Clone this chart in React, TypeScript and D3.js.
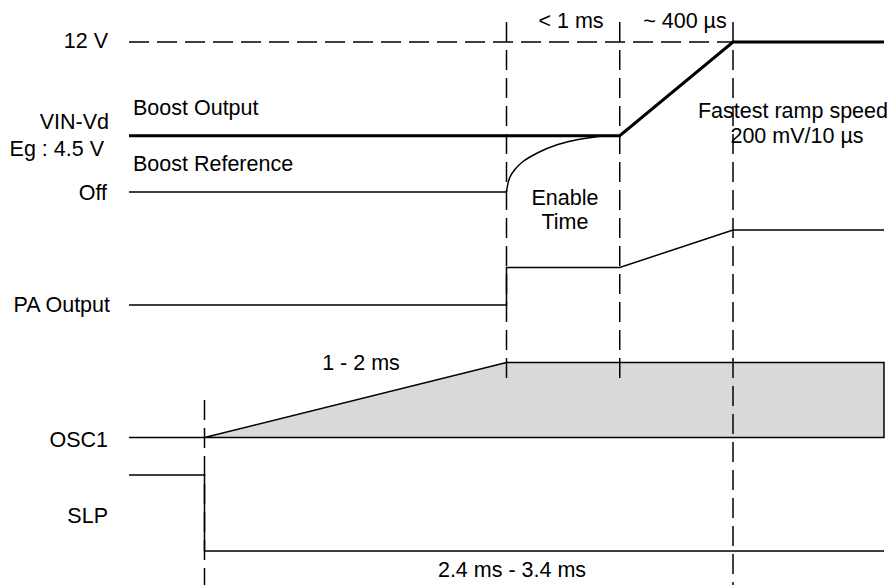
import * as d3 from 'd3';

type Pt = [number, number];

// event times (arbitrary time units): SLP falls, OSC1 settled, enable done, ramp done
const eventTimes = [0, 8, 11, 14];
const timeSpan = [-2, 18];

// boost row, in volts
const twelveVLine: Pt[] = [[-2, 12], [14, 12]];
const boostOutput: Pt[] = [[-2, 4.5], [11, 4.5], [14, 12], [18, 12]];
const boostRefOff: Pt[] = [[-2, 0], [8, 0]];
const boostRefCurve: Pt[] = [
  [8, 0], [8.08, 1.12], [8.21, 1.76], [8.42, 2.4], [8.87, 3.2],
  [9.32, 3.76], [9.75, 4.1], [10.2, 4.34], [10.55, 4.48], [11, 4.5],
];

// PA output levels: 0 low, 1 enabled, 2 full
const paOutput: Pt[] = [[-2, 0], [8, 0], [8, 1], [11, 1], [14, 2], [18, 2]];

// OSC1 amplitude envelope
const osc1Lead: Pt[] = [[-2, 0], [0, 0]];
const osc1Envelope: Pt[] = [[0, 0], [8, 1], [18, 1], [18, 0]];

// SLP logic level
const slp: Pt[] = [[-2, 1], [0, 1], [0, 0], [18, 0]];

const rowLabels = ['12 V', 'VIN-Vd', 'Eg : 4.5 V', 'Off', 'PA Output', 'OSC1', 'SLP'];

const font = "'Liberation Sans', Arial, Helvetica, sans-serif";

const App = () => {
  const width = 892;
  const height = 585;

  const x = d3.scaleLinear().domain(timeSpan).range([129, 884]);
  const yBoost = d3.scaleLinear().domain([0, 12]).range([192, 42]);
  const yPA = d3.scaleLinear().domain([0, 2]).range([305, 230]);
  const yOsc = d3.scaleLinear().domain([0, 1]).range([437.5, 362.5]);
  const ySlp = d3.scaleLinear().domain([0, 1]).range([551, 475]);

  const lineFor = (y: d3.ScaleLinear<number, number>) =>
    d3.line<Pt>().x((d) => x(d[0])).y((d) => y(d[1]));

  const boostLine = lineFor(yBoost);
  const curveLine = lineFor(yBoost).curve(d3.curveCatmullRom.alpha(0.5));

  // vertical extent of each dashed marker
  const markerSpans: Pt[] = [[400, 585], [22, 383], [22, 383], [22, 585]];

  const labelX = [108, 109, 104, 107, 110, 108, 108];
  const labelY = [48, 129, 156, 200, 312, 447, 523];

  const dash = '20,8';

  return (
    <svg width={width} height={height} style={{ position: 'absolute', left: 0, top: 0, background: '#fff' }}>
      <g fontFamily={font} fontSize={21.5} fill='#000'>
        {/* OSC1 envelope area */}
        <path d={lineFor(yOsc)(osc1Envelope) + 'Z'} fill='#d9d9d9' stroke='#000' strokeWidth={1.5} />

        {/* dashed time markers */}
        {eventTimes.map((t, i) => (
          <line
            key={t}
            x1={x(t)}
            x2={x(t)}
            y1={markerSpans[i][0]}
            y2={markerSpans[i][1]}
            stroke='#000'
            strokeWidth={1.5}
            strokeDasharray={dash}
          />
        ))}

        {/* 12 V dashed level */}
        <path d={boostLine(twelveVLine)!} fill='none' stroke='#000' strokeWidth={1.5} strokeDasharray={dash} />

        {/* boost reference */}
        <path d={boostLine(boostRefOff)!} fill='none' stroke='#000' strokeWidth={1.5} />
        <path d={curveLine(boostRefCurve)!} fill='none' stroke='#000' strokeWidth={1.5} />

        {/* boost output */}
        <path d={boostLine(boostOutput)!} fill='none' stroke='#000' strokeWidth={3} />

        {/* PA output */}
        <path d={lineFor(yPA)(paOutput)!} fill='none' stroke='#000' strokeWidth={1.5} />

        {/* OSC1 lead-in */}
        <path d={lineFor(yOsc)(osc1Lead)!} fill='none' stroke='#000' strokeWidth={1.5} />

        {/* SLP */}
        <path d={lineFor(ySlp)(slp)!} fill='none' stroke='#000' strokeWidth={1.5} />

        {/* row labels */}
        {rowLabels.map((s, i) => (
          <text key={s} x={labelX[i]} y={labelY[i]} textAnchor='end'>
            {s}
          </text>
        ))}

        <text x={133} y={115}>Boost Output</text>
        <text x={133} y={171}>Boost Reference</text>

        <text x={571} y={28} textAnchor='middle'>&lt; 1 ms</text>
        <text x={685} y={28} textAnchor='middle'>~ 400 µs</text>

        <text x={793} y={118} textAnchor='middle'>Fastest ramp speed</text>
        <text x={797} y={143} textAnchor='middle'>200 mV/10 µs</text>

        <text x={565} y={205} textAnchor='middle'>Enable</text>
        <text x={565} y={229} textAnchor='middle'>Time</text>

        <text x={361} y={370} textAnchor='middle'>1 - 2 ms</text>
        <text x={512} y={577} textAnchor='middle'>2.4 ms - 3.4 ms</text>
      </g>
    </svg>
  );
};

export default App;
